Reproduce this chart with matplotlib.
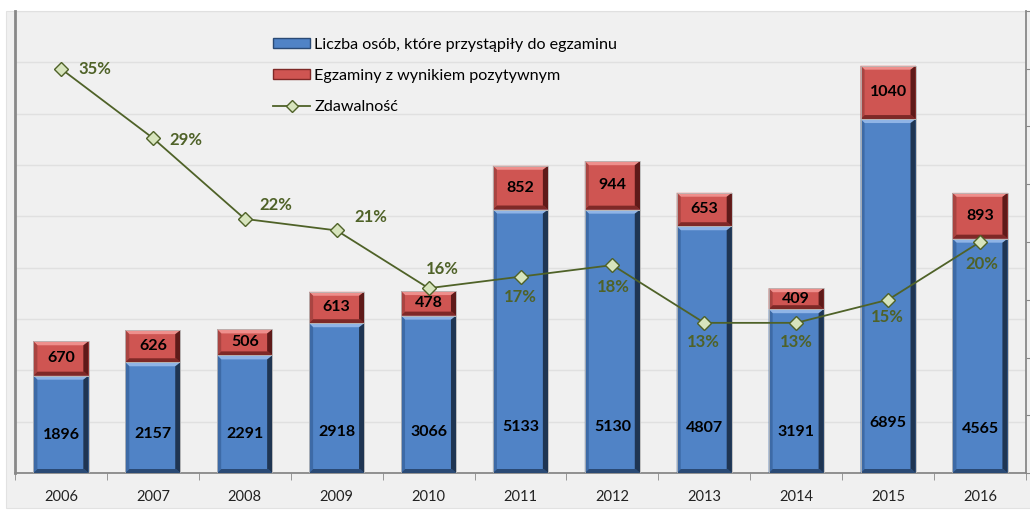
import matplotlib.pyplot as plt
from matplotlib.patches import Patch, Polygon, Rectangle
from matplotlib.lines import Line2D

plt.rcParams['font.family'] = ['Lato', 'DejaVu Sans']

years = ['2006', '2007', '2008', '2009', '2010', '2011', '2012', '2013', '2014', '2015', '2016']
attempted = [1896, 2157, 2291, 2918, 3066, 5133, 5130, 4807, 3191, 6895, 4565]
passed = [670, 626, 506, 613, 478, 852, 944, 653, 409, 1040, 893]
pass_rate = [0.35, 0.29, 0.22, 0.21, 0.16, 0.17, 0.18, 0.13, 0.13, 0.15, 0.20]

# where each percentage label sits relative to its marker (pixels)
rate_offsets = [(17, 0, 'left'), (17, -2, 'left'), (15, 14, 'left'), (18, 13, 'left'),
                (14, 19, 'center'), (0, -20, 'center'), (1, -22, 'center'),
                (-1, -19, 'center'), (0, -19, 'center'), (-1, -17, 'center'), (2, -22, 'center')]

BLUE = '#5083c6'
RED = '#cf5552'
GREEN = '#4f6228'
BG = '#f0f0f0'

fig = plt.figure(figsize=(10.3, 5.13), dpi=100)
fig.patch.set_facecolor('white')
fig.patches.append(Rectangle((6 / 1030, 5 / 513), 1, (508 - 11) / 513, transform=fig.transFigure,
                             facecolor=BG, edgecolor='#e2e2e2', linewidth=0.8, zorder=-10))

ax = fig.add_axes([15 / 1030, 40 / 513, 1011 / 1030, 462 / 513])
ax.set_facecolor('none')
x = list(range(len(years)))
ax.set_xlim(-0.5, len(years) - 0.5)
ax.set_ylim(0, 9000)

width = 0.6
blue_bars = ax.bar(x, attempted, width, color=BLUE, zorder=2)
red_bars = ax.bar(x, passed, width, bottom=attempted, color=RED, zorder=2)

# bevel edges drawn over every bar segment
p0 = ax.transData.transform((0, 0))
p1 = ax.transData.transform((1, 1000))
bx = 4 / (p1[0] - p0[0])
by = 4 * 1000 / (p1[1] - p0[1])


def bevel(bars, light, side, dark, bottom):
    for r in bars:
        x0, y0 = r.get_x(), r.get_y()
        x1, y1 = x0 + r.get_width(), y0 + r.get_height()
        parts = [
            ([(x0, y1), (x1, y1), (x1 - bx, y1 - by), (x0 + bx, y1 - by)], light),
            ([(x0, y1), (x0, y0), (x0 + bx, y0 + by), (x0 + bx, y1 - by)], side),
            ([(x1, y1), (x1, y0), (x1 - 1.3 * bx, y0 + by), (x1 - 1.3 * bx, y1 - by)], dark),
            ([(x0, y0), (x1, y0), (x1 - bx, y0 + by), (x0 + bx, y0 + by)], bottom),
        ]
        for pts, c in parts:
            ax.add_patch(Polygon(pts, closed=True, facecolor=c, edgecolor='none', zorder=3))
        ax.add_patch(Rectangle((x0, y0), x1 - x0, y1 - y0, facecolor='none',
                               edgecolor='#b8b8b8', linewidth=0.6, zorder=3))


bevel(blue_bars, '#8fb4e6', '#3d6aa6', '#1f3552', '#2a4a75')
bevel(red_bars, '#ee8f8c', '#a94441', '#5e1a19', '#7e2927')

for i in x:
    # count labels sit low in the blue bar, a little higher on the taller bars
    ax.annotate(str(attempted[i]), (i, 0), xytext=(0, 33.5 + 0.0024 * attempted[i]),
                textcoords='offset pixels', ha='center', va='center',
                fontsize=11.5, fontweight='bold', color='black', zorder=5)
    ax.text(i, attempted[i] + passed[i] / 2, str(passed[i]), ha='center', va='center',
            fontsize=11.5, fontweight='bold', color='black', zorder=5)

ax.set_yticks(range(0, 9001, 1000))
ax.yaxis.grid(True, color='#e0e0e0', linewidth=1)
ax.set_axisbelow(True)
ax.tick_params(axis='y', length=0, labelleft=False)
ax.set_xticks(x)
ax.set_xticklabels(years, fontsize=10.5, color='#222222')
ax.set_xticks([i - 0.5 for i in range(len(years) + 1)], minor=True)
ax.tick_params(axis='x', which='major', length=0, pad=12)
ax.tick_params(axis='x', which='minor', length=5, color='#888888', direction='out')
for s in ['top', 'right']:
    ax.spines[s].set_visible(False)
ax.spines['left'].set_color('#888888')
ax.spines['left'].set_linewidth(2)
ax.spines['bottom'].set_color('#888888')
ax.spines['bottom'].set_linewidth(1.3)

ax2 = ax.twinx()
ax2.set_ylim(0, 0.40)
ax2.set_yticks([i * 0.05 for i in range(9)])
ax2.tick_params(axis='y', length=5, color='#888888', labelright=False)
for s in ['top', 'left', 'bottom']:
    ax2.spines[s].set_visible(False)
ax2.spines['right'].set_color('#888888')
ax2.spines['right'].set_linewidth(1.3)
ax2.plot(x, pass_rate, color=GREEN, linewidth=1.3, marker='D', markersize=7,
         markerfacecolor='#d7e4bd', markeredgecolor=GREEN, markeredgewidth=1, zorder=4)

for i in x:
    dx, dy, ha = rate_offsets[i]
    ax2.annotate(f'{round(pass_rate[i] * 100)}%', (i, pass_rate[i]), xytext=(dx, dy),
                 textcoords='offset pixels', ha=ha, va='center', fontsize=12,
                 fontweight='bold', color=GREEN, zorder=5)

handles = [
    Patch(facecolor=BLUE, edgecolor='#2a4a75', linewidth=1),
    Patch(facecolor=RED, edgecolor='#7e2927', linewidth=1),
    Line2D([0], [0], color=GREEN, linewidth=1.3, marker='D', markersize=6,
           markerfacecolor='#d7e4bd', markeredgecolor=GREEN),
]
labels = ['Liczba osób, które przystąpiły do egzaminu', 'Egzaminy z wynikiem pozytywnym', 'Zdawalność']
ax2.legend(handles, labels, loc='upper left', bbox_to_anchor=(273 / 1030, 1 - 38 / 513),
           bbox_transform=fig.transFigure, frameon=False, fontsize=11.6, borderpad=0,
           borderaxespad=0, handlelength=2.3, handleheight=0.55, handletextpad=0.25,
           labelspacing=1.05)

fig.savefig('out.png', dpi=100, facecolor=fig.get_facecolor())
